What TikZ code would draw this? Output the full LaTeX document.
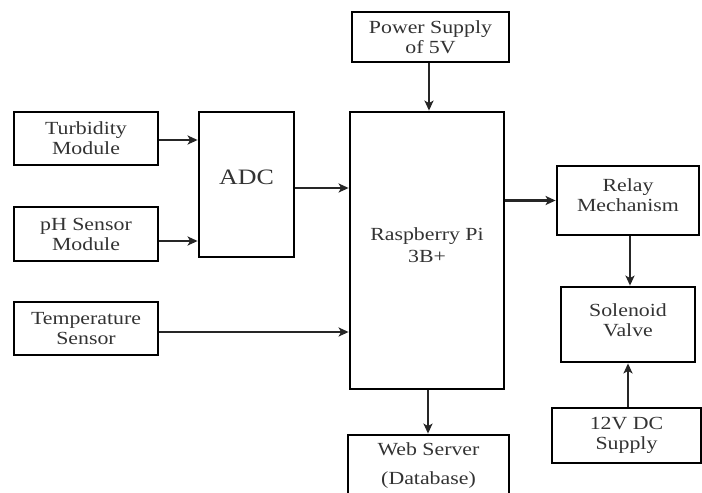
\documentclass[tikz,border=0pt]{standalone}
\usepackage{fontspec}
\setmainfont[FakeStretch=1.18]{Liberation Serif}
\usetikzlibrary{arrows.meta}
\begin{document}
\begin{tikzpicture}[x=1pt,y=-1pt,
  blk/.style={draw=black, line width=2.8pt, rectangle, inner sep=0pt, align=center,
              font=\rmfamily\fontsize{18.5}{20}\selectfont, text=black!80},
  lbl/.style={align=center, inner sep=0pt, font=\rmfamily\fontsize{18.5}{20}\selectfont, text=black!80},
  arr/.style={line width=2.3pt, draw=black!85, -{Stealth[length=10pt,width=9pt,inset=2.5pt]}}]
\clip (0,0) rectangle (702,493);
\fill[white] (0,0) rectangle (702,493);

\node[blk, minimum width=157pt, minimum height=50pt] (power) at (430.5,37) {Power Supply\\of 5V};
\node[blk, minimum width=144pt, minimum height=53pt] (turb) at (86,138.5) {Turbidity\\Module};
\node[blk, minimum width=144pt, minimum height=54pt] (ph) at (86,234) {pH Sensor\\Module};
\node[blk, minimum width=144pt, minimum height=53pt] (temp) at (86,328.5) {Temperature\\Sensor};
\node[blk, minimum width=95pt, minimum height=145pt] (adc) at (246.5,184.5) {};
\node[lbl, font=\rmfamily\fontsize{22}{24}\selectfont] (adctext) at (246.5,177) {ADC};
\node[blk, minimum width=154pt, minimum height=277pt] (pi) at (427,250.5) {};
\node[lbl] (pitext) at (427,245) {Raspberry Pi\\[2pt]3B+};
\node[blk, minimum width=142pt, minimum height=69pt] (relay) at (628,200.5) {};
\node[lbl] (relaytext) at (628,195) {Relay\\Mechanism};
\node[blk, minimum width=134pt, minimum height=75pt] (sol) at (628,324.5) {};
\node[lbl] (soltext) at (628,320) {Solenoid\\Valve};
\node[blk, minimum width=149pt, minimum height=55pt] (dc) at (626.5,435.5) {12V DC\\Supply};
\node[blk, minimum width=161pt, minimum height=80pt] (web) at (428.5,475) {};
\node[lbl] (webtext) at (428.5,466) {Web Server\\[9pt](Database)};

\draw[arr] ([xshift=-1.5pt]power.south) -- ([xshift=-1.5pt]power.south |- pi.north);
\draw[arr] ([yshift=-1.5pt]turb.east) -- ([yshift=-1.5pt]turb.east -| adc.west);
\draw[arr] ([yshift=-7pt]ph.east) -- ([yshift=-7pt]ph.east -| adc.west);
\draw[arr] ([yshift=-3.5pt]adc.east) -- ([yshift=-3.5pt]adc.east -| pi.west);
\draw[arr] ([yshift=-3.5pt]temp.east) -- ([yshift=-3.5pt]temp.east -| pi.west);
\draw[arr] (relay.west -| pi.east) -- (relay.west);
\draw[arr] ([xshift=2pt]relay.south) -- ([xshift=2pt]relay.south |- sol.north);
\draw[arr] ([xshift=1.5pt]dc.north) -- ([xshift=1.5pt]dc.north |- sol.south);
\draw[arr] ([xshift=1pt]pi.south) -- ([xshift=1pt]pi.south |- web.north);
\end{tikzpicture}
\end{document}
